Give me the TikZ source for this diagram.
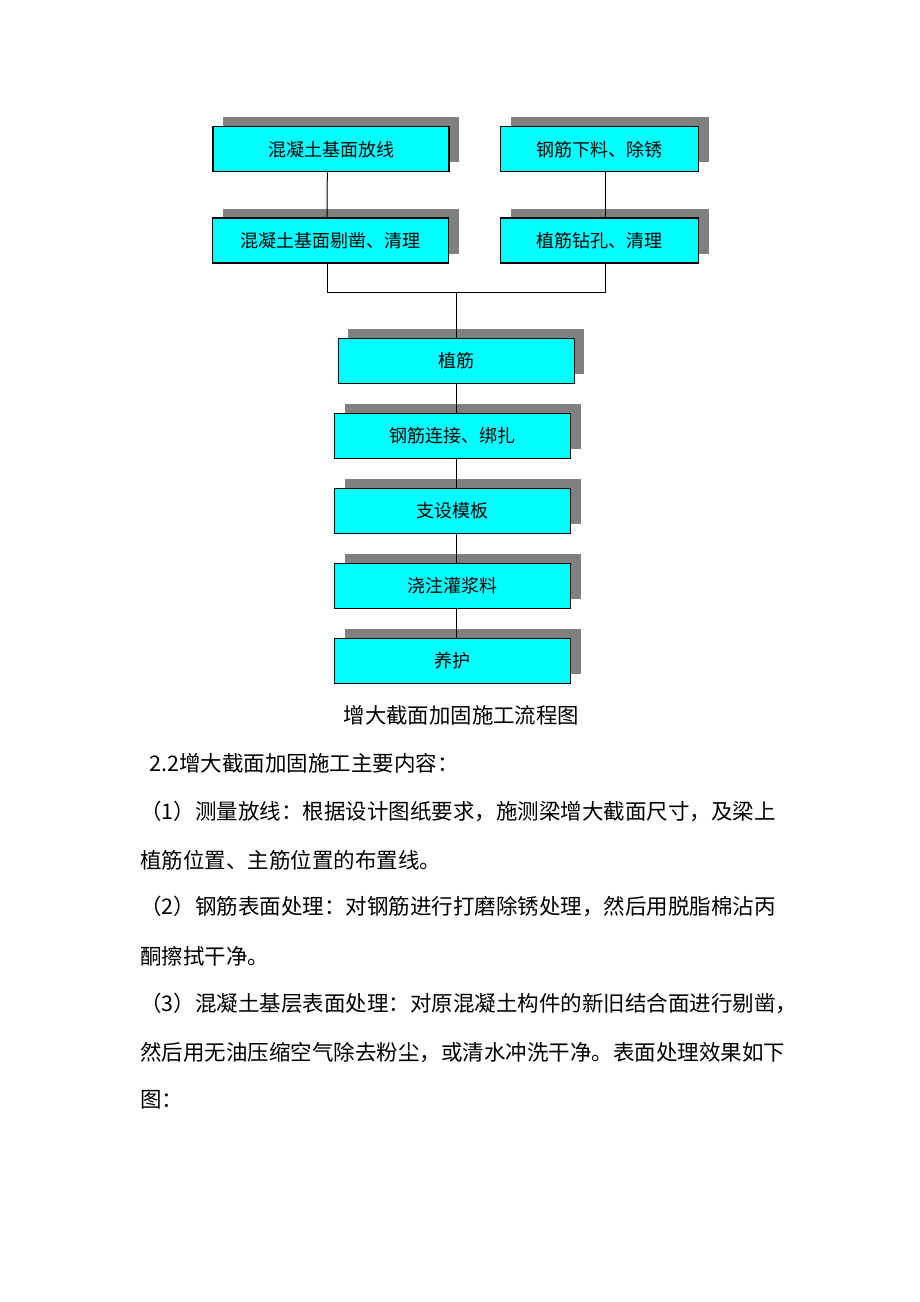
\documentclass[tikz,border=0pt]{standalone}
\usepackage{fontspec}
\setmainfont{Noto Sans CJK SC}
\usetikzlibrary{shadows}

% glue between CJK characters, so that full lines can be stretched
\XeTeXlinebreaklocale "zh"
\XeTeXlinebreakskip=0pt plus 2pt minus 0.5pt

\definecolor{boxcyan}{RGB}{0,255,255}
\definecolor{shadowgray}{RGB}{128,128,128}

\tikzset{
    stepbox/.style={draw=black, line width=0.65pt, fill=boxcyan,
        minimum height=22.5pt, inner sep=0pt,
        font=\fontsize{9}{10}\selectfont,
        drop shadow={shadow xshift=4.9pt, shadow yshift=4.7pt, fill=shadowgray, opacity=1}},
    wide/.style={minimum width=118pt},
    narrow/.style={minimum width=99pt},
    link/.style={line width=0.5pt},
    bodyline/.style={anchor=west, inner sep=0pt, font=\fontsize{10.75}{12}\selectfont},
}
\newcommand{\fullline}[1]{\hbox to 319.5pt{#1}}

\begin{document}
\begin{tikzpicture}[x=0.5pt, y=-0.5pt]

    % --- Page ---
    \useasboundingbox (0,0) rectangle (920,1302);

    % --- Boxes ---
    % two starting branches
    \node[stepbox, wide]   (hntfx) at (331,149.2)   {混凝土基面放线};
    \node[stepbox, narrow] (gjxl)  at (599.7,149.2) {钢筋下料、除锈};
    \node[stepbox, wide]   (hntzz) at (330.7,240.5) {混凝土基面剔凿、清理};
    \node[stepbox, narrow] (zjzk)  at (599.7,240.5) {植筋钻孔、清理};

    % main column
    \node[stepbox, wide] (zj)    at (456.2,360.8) {植筋};
    \node[stepbox, wide] (gjlj)  at (452.8,435.8) {钢筋连接、绑扎};
    \node[stepbox, wide] (zsmb)  at (452.8,510.8) {支设模板};
    \node[stepbox, wide] (jzgjl) at (452.8,585.8) {浇注灌浆料};
    \node[stepbox, wide] (yh)    at (452.8,660.8) {养护};

    % --- Connectors ---
    \draw[link] ([xshift=-1.85pt]hntfx.south) -- ([xshift=-1.85pt]hntzz.north);
    \draw[link] ([xshift=2.8pt]gjxl.south) -- ([xshift=2.8pt]zjzk.north);

    % the two branches join here
    \coordinate (join) at (456.7,292.7);
    \draw[link] ([xshift=-1.85pt]hntzz.south) |- (join) -| ([xshift=2.8pt]zjzk.south);
    \draw[link] (join) -- (join |- zj.north);
    \draw[link] (zj.south) -- (zj.south |- gjlj.north);
    \foreach \a/\b in {gjlj/zsmb, zsmb/jzgjl, jzgjl/yh}
        \draw[link] ([xshift=1.95pt]\a.south) -- ([xshift=1.95pt]\b.north);

    % --- Caption ---
    \node[inner sep=0pt, font=\fontsize{10.7}{12}\selectfont] (title) at (461.3,715) {增大截面加固施工流程图};

    % --- Text below ---
    \node[bodyline] (sec) at (149,763)   {2.2增大截面加固施工主要内容：};
    \node[bodyline] (p1a) at (140,811.7) {\fullline{（1）测量放线：根据设计图纸要求，施测梁增大截面尺寸，及梁上}};
    \node[bodyline] (p1b) at (140,860)   {植筋位置、主筋位置的布置线。};
    \node[bodyline] (p2a) at (140,906.7) {\fullline{（2）钢筋表面处理：对钢筋进行打磨除锈处理，然后用脱脂棉沾丙}};
    \node[bodyline] (p2b) at (140,956.7) {酮擦拭干净。};
    \node[bodyline] (p3a) at (140,1003)  {\fullline{（3）混凝土基层表面处理：对原混凝土构件的新旧结合面进行剔凿，}};
    \node[bodyline] (p3b) at (140,1053)  {\fullline{然后用无油压缩空气除去粉尘，或清水冲洗干净。表面处理效果如下}};
    \node[bodyline] (p3c) at (140,1100)  {图：};

\end{tikzpicture}
\end{document}
